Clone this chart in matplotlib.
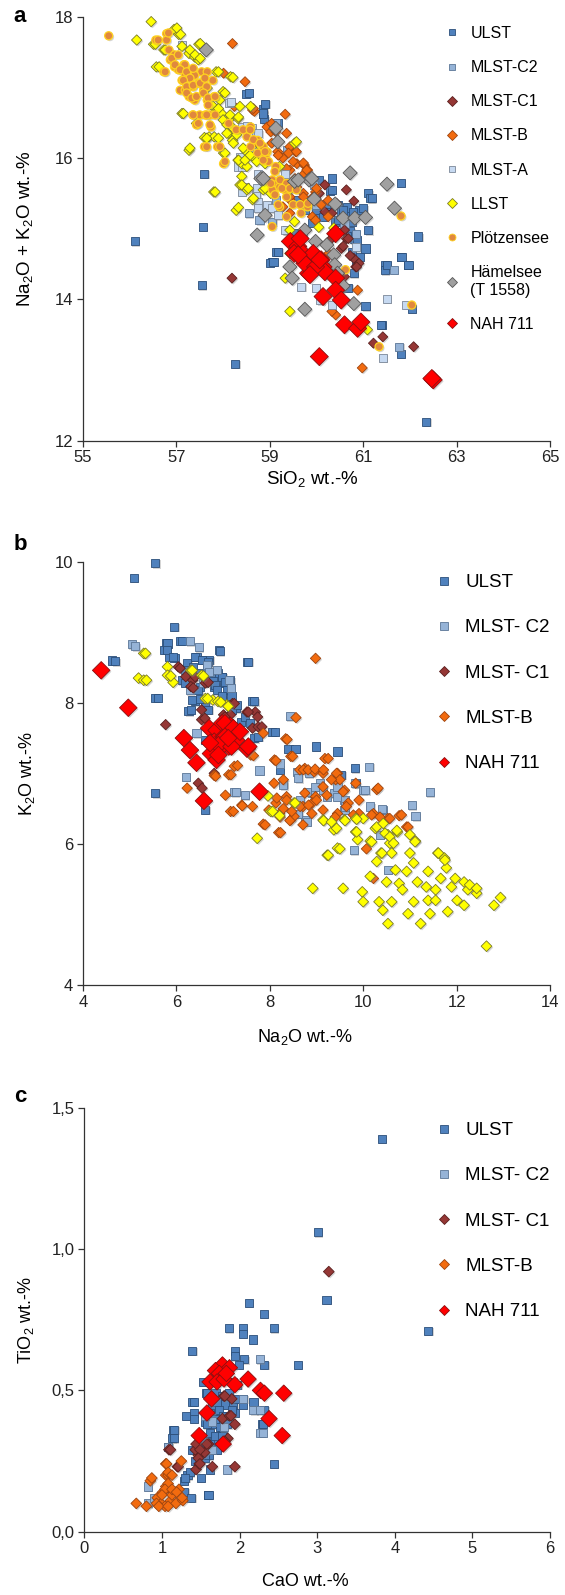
import matplotlib
matplotlib.use("Agg")
import matplotlib.pyplot as plt
import matplotlib.patheffects as pe
from matplotlib.lines import Line2D
import numpy as np

plt.rcParams['font.family'] = ['Liberation Sans', 'DejaVu Sans']
plt.rcParams['mathtext.default'] = 'regular'

# ---------------- panel a: SiO2 vs Na2O+K2O ----------------
a_ulst = [(56.11, 14.82), (57.60, 15.78), (57.57, 15.03), (57.54, 14.20), (58.26, 13.09),
          (58.50, 16.91), (58.86, 16.70), (58.86, 16.62), (58.88, 16.55), (59.17, 16.49),
          (59.13, 14.67), (59.05, 14.53), (59.00, 14.52), (60.33, 15.71), (60.29, 15.54),
          (61.11, 15.50), (61.15, 15.43), (60.91, 15.27), (61.11, 14.98), (61.05, 14.72),
          (61.81, 15.65), (62.18, 14.89), (61.46, 14.48), (61.46, 14.41), (61.81, 14.60),
          (61.95, 14.49), (61.05, 13.90), (61.40, 13.64), (61.81, 13.23), (62.35, 12.27),
          (62.04, 13.87), (60.05, 15.69), (59.99, 15.42), (60.14, 15.23), (60.45, 15.33),
          (60.60, 15.19), (60.72, 14.96), (60.84, 14.91), (60.76, 14.67), (60.80, 14.37),
          (60.68, 14.16), (60.53, 15.23), (60.37, 14.96), (59.91, 15.08), (59.75, 15.27),
          (59.60, 15.41), (59.52, 14.94), (59.36, 14.98), (60.84, 14.51), (60.80, 14.85),
          (60.20, 15.35), (60.00, 15.20), (60.65, 15.30), (60.75, 15.10), (59.85, 15.35),
          (60.40, 15.10), (58.55, 16.92), (58.90, 16.77), (58.86, 16.63), (60.33, 15.55),
          (61.18, 15.43), (60.79, 15.24), (61.00, 15.29), (59.18, 14.67), (59.08, 14.53),
          (61.50, 14.49), (61.97, 14.49), (61.82, 14.60), (61.39, 13.64), (60.65, 14.89),
          (60.86, 14.84), (60.00, 15.26), (60.15, 15.17), (60.47, 15.12), (60.57, 15.26),
          (60.29, 15.24), (60.93, 14.60)]
a_c2 = [(59.13, 16.49), (58.55, 15.22), (58.78, 15.12), (59.05, 15.10), (59.71, 14.93),
        (60.84, 14.93), (59.98, 15.33), (59.13, 15.41), (59.36, 16.11), (60.60, 15.07),
        (59.95, 15.62), (61.65, 14.42), (61.77, 13.33)]
a_c1 = [(58.19, 14.30), (60.18, 15.62), (60.64, 15.55), (60.80, 15.39), (60.18, 15.24),
        (60.33, 15.22), (60.06, 15.50), (60.60, 14.98), (60.41, 14.98), (60.64, 14.86),
        (60.53, 14.72), (60.80, 14.58), (60.84, 14.46), (60.60, 14.32), (61.22, 13.38),
        (61.42, 13.47), (62.08, 13.33), (60.72, 14.62), (60.91, 14.51), (60.29, 14.84),
        (60.43, 15.36), (60.57, 14.75), (60.86, 14.46), (60.68, 14.86)]
a_b = [(58.20, 17.62), (58.01, 17.20), (58.47, 17.08), (58.63, 16.68), (58.67, 16.66),
       (59.33, 16.62), (58.94, 16.44), (59.02, 16.37), (59.13, 16.37), (59.36, 16.35),
       (59.43, 16.16), (59.55, 16.09), (59.40, 16.07), (59.58, 15.92), (59.74, 15.90),
       (59.81, 15.83), (59.74, 15.78), (59.43, 15.83), (59.28, 16.00), (59.17, 16.09),
       (59.58, 15.59), (59.72, 15.50), (59.98, 15.52), (60.25, 15.40), (60.10, 15.34),
       (60.25, 15.17), (59.91, 15.17), (59.43, 15.41), (59.28, 15.31), (59.43, 15.22),
       (59.98, 15.12), (60.88, 14.13), (60.41, 13.78), (60.33, 13.83), (60.98, 13.03),
       (60.26, 14.65), (58.24, 16.73), (58.74, 16.20), (58.65, 16.70), (59.04, 16.49),
       (59.11, 16.40), (59.57, 16.09), (59.72, 15.93), (59.79, 15.83), (59.50, 15.95),
       (59.36, 15.85), (59.04, 16.21), (59.18, 16.04), (59.43, 15.45), (59.72, 15.45),
       (59.93, 15.45), (60.00, 15.57), (59.54, 15.71)]
a_a = [(57.12, 17.60), (58.12, 16.78), (58.40, 16.44), (58.51, 16.45), (58.71, 16.33),
       (58.32, 15.88), (58.67, 16.09), (58.74, 15.78), (58.71, 15.49), (58.74, 15.38),
       (58.94, 15.33), (59.05, 15.29), (59.33, 15.78), (59.17, 15.19), (59.33, 14.98),
       (59.67, 14.18), (59.98, 14.16), (60.08, 13.99), (60.33, 13.92), (60.84, 14.74),
       (61.42, 13.17), (61.50, 14.01), (61.92, 13.92), (58.36, 16.02), (58.47, 15.59),
       (58.16, 16.79), (58.61, 16.42), (58.75, 16.35), (58.40, 15.88), (58.72, 16.09),
       (58.72, 15.57), (58.75, 15.29), (58.40, 15.52)]
a_llst = [(56.46, 17.93), (56.15, 17.67), (56.51, 17.61), (56.57, 17.29), (56.95, 17.82),
          (57.05, 17.75), (56.73, 17.53), (57.12, 17.58), (57.27, 17.48), (57.39, 17.43),
          (57.48, 17.61), (57.47, 17.39), (57.12, 16.63), (57.27, 16.11), (57.43, 16.49),
          (57.60, 16.29), (57.70, 16.30), (57.81, 16.30), (57.85, 17.22), (58.16, 17.15),
          (58.00, 16.94), (57.66, 16.99), (57.78, 16.73), (57.97, 16.63), (58.01, 16.07),
          (57.80, 15.52), (58.28, 15.26), (58.36, 15.62), (58.51, 15.55), (58.63, 15.41),
          (58.40, 15.92), (58.32, 15.97), (58.51, 15.88), (58.67, 16.00), (58.32, 16.56),
          (58.12, 16.54), (58.20, 16.25), (58.12, 16.35), (58.47, 16.11), (58.81, 16.16),
          (58.90, 15.92), (58.98, 15.64), (58.86, 15.55), (59.02, 15.50), (59.53, 16.21),
          (59.43, 15.55), (59.53, 15.10), (59.43, 14.98), (59.43, 14.65), (59.33, 14.30),
          (59.43, 13.83), (60.05, 15.02), (60.37, 15.01), (61.09, 13.57), (59.21, 15.88),
          (58.59, 16.73), (57.93, 16.82), (57.01, 17.84), (57.09, 17.75), (56.55, 17.61),
          (56.76, 17.53), (57.29, 17.53), (57.40, 17.46), (57.51, 17.41), (57.51, 17.62),
          (56.63, 17.29), (57.90, 17.22), (58.21, 17.14), (58.04, 16.92), (57.76, 16.75),
          (57.15, 16.63), (57.90, 16.70), (58.36, 16.73), (58.15, 16.61), (58.00, 16.54),
          (58.08, 16.47), (58.22, 16.42), (58.33, 16.58), (57.65, 16.28), (57.90, 16.28),
          (57.29, 16.14), (58.04, 16.07), (58.08, 16.35), (58.29, 16.33), (58.22, 16.21),
          (58.43, 16.14), (58.33, 15.97), (58.47, 15.97), (58.58, 16.04), (59.57, 16.23),
          (58.40, 15.74), (58.40, 15.62), (58.54, 15.57), (58.65, 15.43), (57.83, 15.52),
          (58.33, 15.30), (58.90, 15.57), (58.72, 15.95)]
a_plotz = [(55.55, 17.73), (56.56, 17.67), (56.79, 17.76), (56.79, 17.67), (56.84, 17.53),
           (56.73, 17.22), (56.87, 17.39), (56.96, 17.46), (56.96, 17.29), (57.04, 17.25),
           (57.12, 17.10), (57.16, 17.32), (57.19, 17.17), (57.08, 16.96), (57.19, 16.96),
           (57.27, 16.87), (57.35, 17.01), (57.39, 16.82), (57.47, 17.06), (57.54, 17.22),
           (57.58, 16.96), (57.66, 16.82), (57.81, 16.87), (57.50, 16.61), (57.62, 16.61),
           (57.74, 16.44), (57.60, 16.16), (57.88, 16.16), (58.01, 15.92), (57.35, 16.61),
           (57.43, 16.47), (58.12, 16.49), (58.28, 16.40), (58.59, 16.44), (58.51, 16.30),
           (58.74, 16.25), (58.86, 16.16), (58.90, 16.02), (59.13, 15.88), (58.94, 16.09),
           (59.05, 15.69), (59.13, 15.62), (59.21, 15.59), (59.05, 15.55), (59.33, 15.55),
           (59.40, 15.59), (59.21, 15.31), (59.50, 15.34), (59.67, 15.22), (59.81, 15.31),
           (59.36, 15.17), (59.05, 15.03), (59.02, 15.64), (58.59, 16.16), (58.74, 16.07),
           (61.81, 15.18), (60.62, 14.42), (62.04, 13.92), (61.34, 13.33), (57.39, 17.17),
           (57.78, 17.10), (57.66, 17.22), (56.61, 17.67), (56.83, 17.77), (56.90, 17.41),
           (57.04, 17.46), (56.76, 17.22), (56.97, 17.32), (57.18, 17.32), (57.08, 17.25),
           (57.22, 17.22), (57.36, 17.27), (57.29, 17.13), (57.15, 17.10), (57.22, 17.01),
           (57.36, 17.03), (57.51, 17.06), (57.61, 17.13), (57.65, 17.01), (57.22, 16.92),
           (57.33, 16.85), (57.43, 16.87), (57.58, 16.92), (57.68, 16.85), (57.68, 16.75),
           (57.83, 16.87), (57.72, 16.61), (57.83, 16.61), (57.65, 16.61), (57.72, 16.47),
           (57.36, 16.61), (57.47, 16.49), (58.04, 15.95), (57.65, 16.16), (57.93, 16.16),
           (58.43, 16.40), (58.58, 16.40), (58.65, 16.26), (58.79, 16.21), (58.90, 16.09),
           (58.97, 15.95), (58.86, 15.97), (59.11, 15.81), (59.22, 15.69), (59.36, 15.64),
           (59.26, 15.57), (59.43, 15.57), (59.57, 15.55), (59.11, 15.48), (59.36, 15.45),
           (59.18, 15.34), (59.65, 15.34), (59.82, 15.36)]
a_hamel = [(57.64, 17.53), (59.13, 16.42), (59.17, 16.23), (58.81, 15.71), (59.53, 15.67),
           (59.84, 15.69), (60.72, 15.79), (61.51, 15.63), (61.67, 15.29), (59.95, 15.42),
           (60.40, 15.35), (60.57, 15.15), (60.82, 15.15), (61.05, 15.16), (58.90, 15.19),
           (58.73, 14.91), (59.75, 14.98), (59.98, 14.82), (60.22, 14.77), (60.37, 14.63),
           (60.39, 14.49), (59.43, 14.46), (59.48, 14.30), (59.75, 13.86), (60.80, 13.94),
           (60.57, 14.19), (60.45, 14.37), (59.61, 15.69), (58.86, 15.71), (59.90, 15.71)]
a_nah = [(59.44, 14.82), (59.60, 14.75), (59.71, 14.65), (59.83, 14.56), (59.52, 14.65),
         (59.91, 14.63), (60.10, 14.56), (60.14, 14.46), (60.18, 14.39), (59.83, 14.37),
         (60.41, 14.93), (60.41, 14.30), (60.41, 14.13), (60.53, 13.99), (60.14, 14.04),
         (60.60, 13.64), (60.88, 13.59), (60.95, 13.68), (60.06, 13.19), (62.50, 12.86),
         (62.47, 12.88), (59.75, 14.51), (59.98, 14.46), (59.65, 14.86), (59.93, 14.65),
         (59.61, 14.63), (60.07, 14.56), (59.86, 14.35)]

# ---------------- panel b: Na2O vs K2O ----------------
b_ulst = [(5.55, 9.98), (5.09, 9.77), (5.95, 9.08), (4.63, 8.60), (5.55, 8.07), (5.55, 6.72),
          (6.08, 8.88), (5.77, 8.84), (5.74, 8.75), (5.85, 8.65), (5.96, 8.64), (6.23, 8.56),
          (6.43, 8.65), (6.54, 8.61), (6.70, 8.61), (6.91, 8.75), (6.35, 8.51), (6.50, 8.42),
          (6.66, 8.51), (6.78, 8.37), (6.89, 8.42), (7.01, 8.28), (6.81, 8.23), (7.12, 8.18),
          (6.50, 8.23), (6.39, 8.02), (6.26, 7.88), (6.62, 7.95), (6.98, 8.04), (7.51, 8.58),
          (7.63, 8.02), (7.28, 7.92), (7.38, 7.73), (7.67, 7.50), (8.05, 7.59), (8.40, 7.35),
          (8.55, 7.35), (8.98, 7.38), (9.45, 7.31), (9.82, 7.07), (9.84, 6.86), (9.53, 6.98),
          (8.21, 7.05), (6.62, 6.48), (6.62, 7.47), (7.05, 7.47), (6.12, 8.32), (6.98, 8.37),
          (5.81, 8.84), (6.13, 8.88), (5.79, 8.75), (5.93, 8.65), (6.93, 8.73), (7.54, 8.58),
          (6.40, 8.65), (6.54, 8.61), (6.68, 8.58), (6.18, 8.46), (6.75, 8.42), (6.97, 8.37),
          (7.04, 8.30), (7.15, 8.32), (6.83, 8.25), (6.47, 8.18), (6.86, 8.18), (7.08, 8.18),
          (6.18, 8.28), (6.33, 8.04), (6.51, 8.06), (6.97, 8.09), (7.18, 8.09), (6.31, 7.90),
          (6.68, 7.90), (5.60, 8.07), (4.69, 8.59), (7.67, 8.02), (8.11, 7.59), (7.75, 7.52),
          (7.47, 7.80), (7.18, 7.90), (7.58, 7.71), (7.29, 7.97)]
b_c2 = [(5.05, 8.83), (5.12, 8.80), (6.29, 8.87), (6.48, 8.79), (6.66, 8.54), (6.70, 8.44),
        (7.12, 8.32), (6.43, 7.57), (6.20, 6.95), (7.24, 6.73), (7.47, 6.69), (7.78, 7.04),
        (8.21, 7.14), (8.29, 6.86), (8.43, 7.81), (8.60, 7.02), (8.83, 7.00), (9.07, 6.86),
        (9.37, 6.72), (9.60, 6.62), (9.99, 6.76), (10.13, 7.09), (10.15, 6.53), (10.42, 6.48),
        (11.04, 6.55), (11.12, 6.39), (11.43, 6.73), (9.80, 5.91), (10.36, 6.13), (8.75, 6.34),
        (8.60, 6.43), (8.91, 6.72), (9.14, 6.76), (9.22, 6.67), (9.45, 6.81), (10.53, 5.63),
        (9.60, 6.48), (7.17, 8.21), (6.29, 8.18), (6.58, 8.28), (6.86, 8.47), (8.59, 7.02),
        (8.29, 6.83), (8.61, 6.93), (8.79, 6.74), (8.97, 6.81), (9.43, 6.67), (9.82, 6.86),
        (10.04, 6.76), (7.28, 6.74), (8.65, 6.62), (9.61, 6.53), (10.40, 6.49), (8.61, 6.43),
        (8.79, 6.31)]
b_c1 = [(6.04, 8.51), (5.77, 7.69), (6.20, 8.37), (6.35, 8.32), (6.31, 8.23), (6.62, 8.28),
        (6.54, 7.90), (6.54, 7.76), (7.20, 7.99), (7.01, 7.83), (7.16, 7.83), (7.51, 7.87),
        (7.69, 7.87), (7.74, 7.80), (7.63, 7.64), (7.32, 7.57), (6.47, 6.86), (6.55, 6.79),
        (6.81, 7.00), (6.08, 8.49), (6.40, 8.37), (6.68, 8.29), (6.36, 8.21), (6.61, 7.78),
        (7.24, 7.99), (7.54, 7.87), (7.75, 7.66), (7.83, 7.66), (7.04, 7.80)]
b_b = [(8.98, 8.63), (8.56, 7.79), (7.86, 7.57), (8.34, 7.49), (8.45, 7.24), (8.10, 7.19),
       (9.18, 7.21), (7.24, 7.10), (7.59, 7.26), (7.12, 6.98), (6.81, 6.97), (6.23, 6.79),
       (7.05, 6.69), (7.16, 6.46), (7.40, 6.55), (7.63, 6.53), (7.86, 6.28), (8.19, 6.16),
       (8.09, 6.86), (8.29, 6.91), (8.64, 7.05), (8.75, 7.07), (8.95, 7.02), (9.14, 7.00),
       (9.45, 7.00), (9.41, 6.91), (9.14, 6.81), (8.98, 6.67), (8.75, 6.72), (8.36, 6.67),
       (8.13, 6.58), (7.98, 6.48), (8.21, 6.43), (8.45, 6.34), (8.71, 6.53), (8.91, 6.58),
       (9.14, 6.48), (9.45, 6.43), (9.68, 6.58), (9.91, 6.62), (10.29, 6.77), (9.91, 6.43),
       (10.22, 6.43), (10.42, 6.34), (10.77, 6.40), (10.93, 6.24), (10.53, 6.36), (10.07, 5.93),
       (10.22, 5.51), (8.71, 6.27), (8.52, 6.39), (9.60, 6.76), (9.84, 6.86), (8.37, 7.48),
       (8.49, 7.24), (8.13, 7.18), (9.25, 7.21), (7.65, 7.25), (7.31, 7.11), (7.17, 6.98),
       (6.84, 6.96), (7.22, 6.46), (7.41, 6.54), (7.90, 6.27), (8.23, 6.16), (8.72, 7.05),
       (8.82, 7.05), (8.97, 7.06), (9.15, 7.05), (9.43, 7.00), (9.50, 6.91), (9.32, 6.91),
       (10.32, 6.79), (8.15, 6.65), (8.36, 6.62), (8.29, 6.50), (8.47, 6.46), (8.65, 6.53),
       (8.83, 6.55), (9.00, 6.62), (8.90, 6.43), (9.22, 6.69), (9.57, 6.74), (9.64, 6.53),
       (9.79, 6.41), (9.40, 6.38), (10.18, 6.41), (10.36, 6.38), (10.57, 6.36), (10.82, 6.41),
       (10.96, 6.24), (8.43, 6.33), (8.22, 6.38)]
b_llst = [(5.30, 8.70), (5.19, 8.35), (5.30, 8.32), (5.81, 8.51), (5.81, 8.39), (5.93, 8.29),
          (6.31, 8.46), (6.54, 8.39), (6.62, 8.06), (6.78, 8.04), (6.89, 8.02), (7.08, 7.97),
          (7.73, 6.08), (7.96, 6.68), (8.02, 6.46), (8.21, 6.40), (8.52, 6.58), (8.92, 5.37),
          (9.23, 5.84), (9.45, 5.94), (9.57, 5.37), (9.14, 6.34), (9.37, 6.20), (9.60, 6.34),
          (9.84, 6.36), (9.84, 6.17), (9.88, 6.06), (10.00, 6.36), (9.98, 5.32), (10.00, 5.18),
          (10.15, 6.04), (10.15, 5.54), (10.29, 5.75), (10.26, 6.22), (10.38, 5.87), (10.34, 5.18),
          (10.42, 5.06), (10.50, 5.46), (10.53, 6.13), (10.57, 6.01), (10.61, 5.87), (10.53, 4.87),
          (10.61, 5.18), (10.69, 5.63), (10.73, 6.17), (10.77, 5.44), (10.84, 5.35), (10.93, 5.61),
          (10.96, 5.01), (11.00, 5.87), (11.08, 5.73), (11.08, 5.18), (11.00, 6.13), (11.12, 6.04),
          (11.16, 5.46), (11.23, 4.87), (11.35, 5.39), (11.39, 5.61), (11.39, 5.20), (11.43, 5.01),
          (11.55, 5.35), (11.60, 5.87), (11.66, 5.51), (11.74, 5.80), (11.78, 5.66), (11.81, 5.04),
          (11.89, 5.39), (11.97, 5.51), (12.01, 5.20), (12.16, 5.13), (12.16, 5.46), (12.24, 5.35),
          (12.28, 5.42), (12.43, 5.30), (12.43, 5.37), (12.64, 4.55), (12.80, 5.13), (12.94, 5.24),
          (11.55, 5.20), (8.54, 6.58), (8.06, 6.46), (9.15, 6.33), (9.32, 6.31), (9.43, 6.22),
          (9.61, 6.33), (9.86, 6.35), (10.29, 6.24), (10.43, 6.29), (10.47, 6.15), (10.72, 6.19),
          (11.11, 6.03), (9.86, 6.17), (10.18, 6.03), (10.57, 6.10), (10.65, 6.01), (10.40, 5.87),
          (9.25, 5.84), (9.50, 5.93), (11.61, 5.87), (11.75, 5.77), (5.34, 8.70), (5.36, 8.32),
          (5.88, 8.38), (6.34, 8.46), (6.58, 8.38), (6.67, 8.06), (6.95, 8.01), (7.11, 7.95)]
b_nah = [(4.39, 8.46), (4.97, 7.93), (6.16, 7.50), (6.29, 7.33), (6.43, 7.15), (6.59, 6.61),
         (6.70, 7.64), (6.86, 7.61), (6.81, 7.45), (6.98, 7.71), (7.01, 7.52), (7.16, 7.67),
         (7.28, 7.59), (7.12, 7.38), (6.89, 7.33), (6.74, 7.28), (6.86, 7.19), (7.51, 7.35),
         (7.78, 6.74), (7.28, 7.47), (7.04, 7.71), (7.22, 7.64), (7.36, 7.59), (7.04, 7.52),
         (6.90, 7.40), (7.18, 7.38), (7.11, 7.50), (6.72, 7.43), (7.54, 7.38), (6.90, 7.26)]

# ---------------- panel c: CaO vs TiO2 ----------------
c_ulst = [(3.83, 1.39), (3.01, 1.06), (3.12, 0.82), (4.43, 0.71), (2.12, 0.81), (2.31, 0.77),
          (2.44, 0.72), (1.86, 0.72), (2.04, 0.72), (2.04, 0.70), (2.17, 0.68), (1.39, 0.64),
          (1.94, 0.64), (1.94, 0.62), (2.06, 0.61), (2.32, 0.59), (2.75, 0.59), (1.99, 0.59),
          (1.53, 0.53), (1.57, 0.49), (1.39, 0.46), (1.41, 0.46), (1.31, 0.41), (1.41, 0.42),
          (1.41, 0.40), (2.04, 0.45), (2.32, 0.43), (2.29, 0.38), (1.14, 0.36), (1.13, 0.33),
          (1.08, 0.30), (1.39, 0.29), (2.44, 0.24), (1.33, 0.20), (1.28, 0.18), (1.29, 0.14),
          (1.38, 0.12), (1.59, 0.13), (1.64, 0.44), (1.73, 0.40), (1.78, 0.36), (1.69, 0.34),
          (1.87, 0.41), (1.92, 0.45), (1.94, 0.47), (1.69, 0.49), (1.67, 0.32), (1.60, 0.27),
          (1.62, 0.22), (1.50, 0.19), (1.55, 0.26), (1.78, 0.48), (1.87, 0.49), (1.97, 0.52),
          (1.76, 0.41), (1.55, 0.39), (1.73, 0.30), (1.94, 0.42), (2.18, 0.46), (1.58, 0.49),
          (1.71, 0.46), (1.81, 0.45), (1.90, 0.43), (1.73, 0.43), (1.62, 0.42), (1.68, 0.40),
          (1.79, 0.41), (1.84, 0.38), (1.75, 0.37), (1.64, 0.38), (1.58, 0.38), (1.62, 0.35),
          (1.68, 0.34), (1.77, 0.34), (1.56, 0.32), (1.62, 0.31), (1.51, 0.29), (1.71, 0.29),
          (1.56, 0.27), (1.43, 0.25), (1.16, 0.36), (1.15, 0.33), (1.36, 0.21), (1.30, 0.19),
          (1.60, 0.13), (2.05, 0.47), (2.30, 0.38)]
c_c2 = [(2.26, 0.61), (2.04, 0.47), (2.18, 0.43), (2.27, 0.35), (1.84, 0.22), (0.82, 0.16),
        (0.82, 0.10), (0.90, 0.12), (1.08, 0.30), (1.64, 0.29), (1.64, 0.39), (1.55, 0.41),
        (1.80, 0.37), (1.92, 0.53), (2.30, 0.35), (2.26, 0.43)]
c_c1 = [(3.15, 0.92), (1.09, 0.29), (1.20, 0.23), (1.44, 0.22), (1.48, 0.24), (1.47, 0.27),
        (1.43, 0.29), (1.55, 0.28), (1.60, 0.31), (1.65, 0.23), (1.94, 0.23), (1.78, 0.40),
        (1.87, 0.41), (1.94, 0.38), (1.80, 0.48), (1.90, 0.47), (1.85, 0.33), (1.81, 0.48),
        (1.89, 0.41), (1.11, 0.29), (1.44, 0.31), (1.58, 0.31), (1.49, 0.29), (1.47, 0.26),
        (1.49, 0.24), (1.21, 0.23), (1.81, 0.32)]
c_b = [(0.67, 0.10), (0.85, 0.18), (1.05, 0.24), (1.25, 0.25), (1.05, 0.20), (1.08, 0.20),
       (1.05, 0.16), (1.11, 0.15), (1.18, 0.14), (1.22, 0.15), (0.94, 0.12), (0.99, 0.10),
       (1.04, 0.09), (1.11, 0.11), (1.18, 0.10), (1.27, 0.11), (0.80, 0.09), (0.93, 0.10),
       (1.01, 0.14), (0.96, 0.09), (1.08, 0.09), (1.13, 0.13), (1.06, 0.24), (1.08, 0.21),
       (1.13, 0.20), (0.87, 0.19), (1.08, 0.17), (1.04, 0.15), (1.13, 0.15), (1.19, 0.14),
       (1.26, 0.12), (1.00, 0.13)]
c_nah = [(1.78, 0.59), (1.69, 0.57), (1.87, 0.58), (1.74, 0.56), (1.62, 0.53), (1.71, 0.53),
         (1.80, 0.54), (1.94, 0.52), (2.11, 0.54), (2.27, 0.50), (2.32, 0.49), (2.57, 0.49),
         (1.64, 0.47), (1.58, 0.42), (2.38, 0.40), (1.48, 0.34), (2.55, 0.34), (1.79, 0.31),
         (1.83, 0.56)]

c_ytick_labels = ['0,0', '0,5', '1,0', '1,5']
bc_legend_labels = ['ULST', 'MLST- C2', 'MLST- C1', 'MLST-B', 'NAH 711']

# name: (face, edge, marker)
STYLE = {
    'ULST': ('#4F81BD', '#2c4f7a', 's'),
    'MLST-C2': ('#95B3D7', '#5a7596', 's'),
    'MLST-C1': ('#953735', '#5a1f1e', 'D'),
    'MLST-B': ('#F26B0F', '#9c4410', 'D'),
    'MLST-A': ('#C6D9F1', '#7b8798', 's'),
    'LLST': ('#FFFF00', '#7a7a28', 'D'),
    'Plötzensee': ('#E0883E', '#FFD21F', 'o'),
    'Hämelsee\n(T 1558)': ('#A0A0A0', '#555555', 'D'),
    'NAH 711': ('#FF0000', '#8a1010', 'D'),
}

fig = plt.figure(figsize=(5.65, 15.95), dpi=100)
W, H = 565.0, 1595.0
shadow = [pe.SimplePatchShadow(offset=(1.0, -1.0), shadow_rgbFace='#888888', alpha=0.35), pe.Normal()]


def make_axes(left, right, top, bottom):
    return fig.add_axes([left / W, 1 - bottom / H, (right - left) / W, (bottom - top) / H])


def scatter(ax, pts, name, size, lw=0.6):
    face, edge, m = STYLE[name]
    pts = np.array(pts)
    sc = ax.scatter(pts[:, 0], pts[:, 1], s=size, marker=m, c=face, edgecolors=edge,
                    linewidths=lw, clip_on=False)
    sc.set_path_effects(shadow)


def style_axes(ax):
    for s in ['top', 'right']:
        ax.spines[s].set_visible(False)
    for s in ['left', 'bottom']:
        ax.spines[s].set_color('#333333')
        ax.spines[s].set_linewidth(0.9)
    ax.tick_params(direction='out', length=4, width=0.9, color='#333333',
                   labelsize=12, labelcolor='#222222', pad=3)


def legend(ax, names, labels, fontsize, x, y, spacing, ms_map):
    handles = []
    for n in names:
        face, edge, m = STYLE[n]
        handles.append(Line2D([], [], ls='none', marker=m, mfc=face, mec=edge, mew=0.6,
                              ms=ms_map.get(n, 5.5)))
    ax.legend(handles, labels, loc='upper left', bbox_to_anchor=(x / W, 1 - y / H),
              bbox_transform=fig.transFigure, frameon=False, fontsize=fontsize,
              borderpad=0, borderaxespad=0, handlelength=0.8, handletextpad=0.75,
              labelspacing=spacing)


# ---- panel a ----
ax = make_axes(83, 550, 16.7, 440.7)
scatter(ax, a_ulst, 'ULST', 34)
scatter(ax, a_c2, 'MLST-C2', 34)
scatter(ax, a_c1, 'MLST-C1', 26)
scatter(ax, a_b, 'MLST-B', 26)
scatter(ax, a_a, 'MLST-A', 34)
scatter(ax, a_llst, 'LLST', 28)
scatter(ax, a_plotz, 'Plötzensee', 34, lw=0.9)
scatter(ax, a_hamel, 'Hämelsee\n(T 1558)', 52)
scatter(ax, a_nah, 'NAH 711', 84)
ax.set_xlim(55, 65)
ax.set_ylim(12, 18)
ax.set_xticks(np.arange(55, 66, 2))
ax.set_yticks([12, 14, 16, 18])
style_axes(ax)
ax.set_xlabel('SiO$_2$ wt.-%', fontsize=13.5)
ax.set_ylabel('Na$_2$O + K$_2$O wt.-%', fontsize=13.5)
ax.xaxis.set_label_coords(0.49, -0.09)
ax.xaxis.label.set_va('center')
ax.yaxis.set_label_coords(-58 / 467.0, 0.5)
ax.yaxis.label.set_va('center')
names_a = list(STYLE.keys())
legend(ax, names_a, names_a, 11.5, 445.5, 26, 1.2,
       {'ULST': 5, 'MLST-C2': 5, 'MLST-A': 5, 'Plötzensee': 5})
fig.text(20 / W, 1 - 17 / H, 'a', fontsize=16, fontweight='bold', ha='center', va='center')

# ---- panel b ----
ax = make_axes(83, 550, 561.7, 985)
scatter(ax, b_ulst, 'ULST', 34)
scatter(ax, b_c2, 'MLST-C2', 34)
scatter(ax, b_c1, 'MLST-C1', 28)
scatter(ax, b_b, 'MLST-B', 28)
scatter(ax, b_llst, 'LLST', 30)
scatter(ax, b_nah, 'NAH 711', 80)
ax.set_xlim(4, 14)
ax.set_ylim(4, 10)
ax.set_xticks(np.arange(4, 15, 2))
ax.set_yticks([4, 6, 8, 10])
style_axes(ax)
ax.set_xlabel('Na$_2$O wt.-%', fontsize=13)
ax.set_ylabel('K$_2$O wt.-%', fontsize=13)
ax.xaxis.set_label_coords(0.475, -0.122)
ax.xaxis.label.set_va('center')
ax.yaxis.set_label_coords(-56 / 467.0, 0.5)
ax.yaxis.label.set_va('center')
names_bc = ['ULST', 'MLST-C2', 'MLST-C1', 'MLST-B', 'NAH 711']
legend(ax, names_bc, bc_legend_labels, 13.5, 436, 574, 1.5, {})
fig.text(20 / W, 1 - 545 / H, 'b', fontsize=16, fontweight='bold', ha='center', va='center')

# ---- panel c ----
ax = make_axes(84.3, 550, 1107.7, 1531.7)
scatter(ax, c_ulst, 'ULST', 34)
scatter(ax, c_c2, 'MLST-C2', 34)
scatter(ax, c_c1, 'MLST-C1', 30)
scatter(ax, c_b, 'MLST-B', 30)
scatter(ax, c_nah, 'NAH 711', 70)
ax.set_xlim(0, 6)
ax.set_ylim(0, 1.5)
ax.set_xticks(np.arange(0, 7, 1))
ax.set_yticks([0, 0.5, 1.0, 1.5])
ax.set_yticklabels(c_ytick_labels)
style_axes(ax)
ax.set_xlabel('CaO wt.-%', fontsize=13)
ax.set_ylabel('TiO$_2$ wt.-%', fontsize=13)
ax.xaxis.set_label_coords(0.475, -0.118)
ax.xaxis.label.set_va('center')
ax.yaxis.set_label_coords(-58 / 466.0, 0.5)
ax.yaxis.label.set_va('center')
legend(ax, names_bc, bc_legend_labels, 13.5, 436, 1122, 1.5, {})
fig.text(20 / W, 1 - 1096 / H, 'c', fontsize=16, fontweight='bold', ha='center', va='center')

fig.savefig('out.png', dpi=100)
